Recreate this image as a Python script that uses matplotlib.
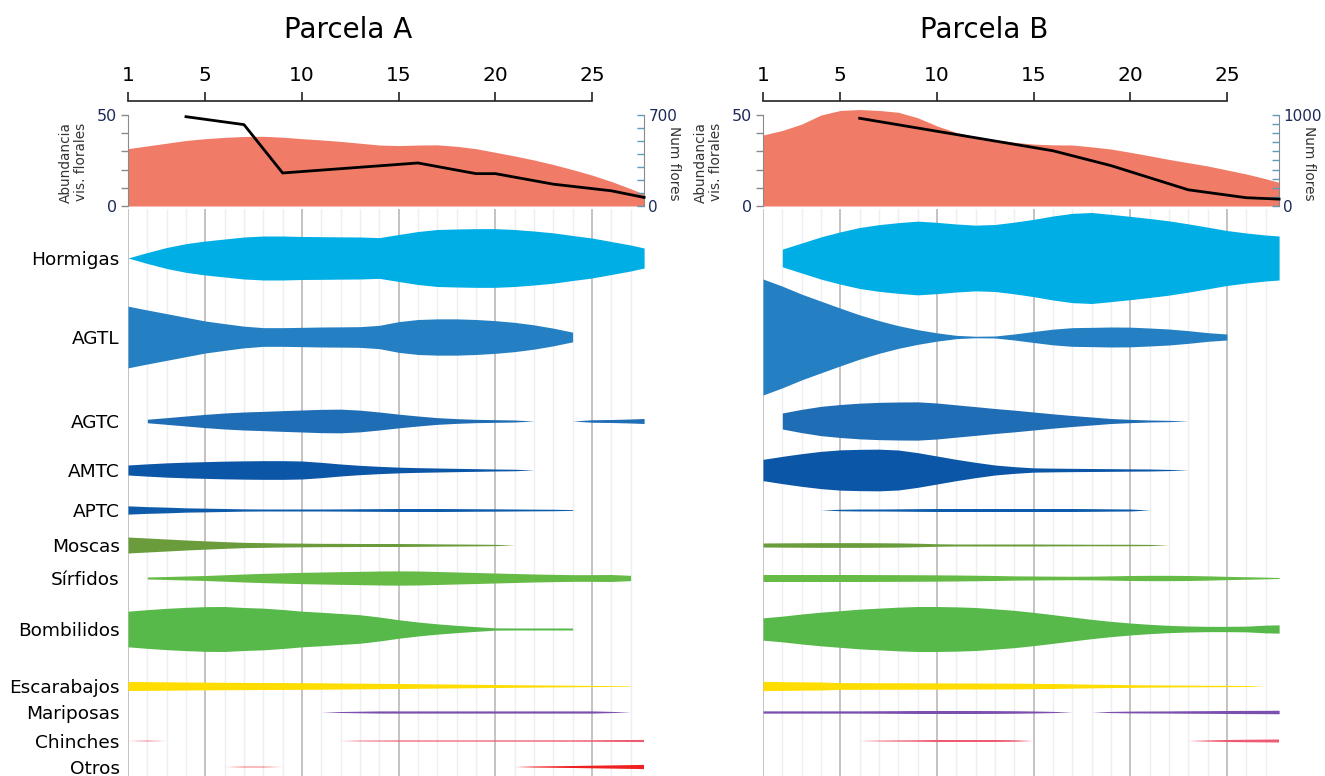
import numpy as np
import matplotlib
matplotlib.use("Agg")
import matplotlib.pyplot as plt

nan = np.nan

# ---------------- data ----------------
semanas = [1, 2, 3, 4, 5, 6, 7, 8, 9, 10, 11, 12, 13, 14, 15, 16, 17, 18, 19, 20,
           21, 22, 23, 24, 25, 26, 27, 27.7]
semanas_eje = [1, 5, 10, 15, 20, 25]

categorias = ["Hormigas", "AGTL", "AGTC", "AMTC", "APTC", "Moscas", "Sírfidos",
              "Bombilidos", "Escarabajos", "Mariposas", "Chinches", "Otros"]

# abundancia de visitantes florales (eje izquierdo, 0-50)
abund_A = [31.5, 33, 34.5, 36, 37, 37.7, 38.2, 38.3, 37.8, 37, 36.3, 35.5, 34.5, 33.5,
           33.2, 33.5, 33.6, 32.8, 31.5, 29.5, 27.5, 25.3, 22.8, 20, 17, 13.5, 9.5, 6.5]
abund_B = [39, 41.5, 45, 50, 52.5, 53, 52.5, 51.5, 48.5, 44, 40.4, 38, 36.4, 35, 34,
           33.6, 33.5, 32.5, 31.3, 29.5, 27.6, 25.6, 23.8, 22, 19.8, 17.6, 15, 13]

# número de flores (eje derecho)
flores_sem_A = [4, 7, 9, 16, 19, 20, 23, 26, 27.7]
flores_A = [687, 626, 254, 331, 249, 249, 168, 117, 66]
flores_sem_B = [6, 16, 19, 23, 26, 27.7]
flores_B = [964, 607, 444, 178, 91, 76]

# abundancia por grupo (ancho de la forma), parcela A
hormigas_A = [0, 11, 21, 28.7, 34, 38, 42, 44, 44, 43, 42.7, 42.3, 42, 40.7, 47, 53, 57,
              58, 58.7, 58.7, 57, 54, 50.3, 45, 40, 33, 26, 20]
agtl_A = [61.7, 54, 46.7, 39.3, 32, 26.7, 21.7, 18.7, 18.7, 19.3, 20, 20.3, 20.7, 23.3,
          30.7, 35, 36.3, 36.3, 35, 32.7, 29.3, 24.3, 17.7, 9.7, nan, nan, nan, nan]
agtc_A = [nan, 3.5, 6.7, 10, 13.3, 16, 18, 19.3, 20.7, 22, 23.3, 23.7, 21.7, 18, 13.7,
          10, 6.7, 4.7, 3.3, 2.7, 2, 0, 0, 0, 2.5, 3, 4, 5]
amtc_A = [10, 12.3, 14.3, 15.7, 16.7, 17.7, 18.3, 18.7, 18.7, 18, 15.3, 12, 9.3, 7.3,
          5.7, 4.7, 4, 3.3, 2.7, 2, 1.5, 0, nan, nan, nan, nan, nan, nan]
aptc_A = [8.3, 6.7, 5.7, 4.3, 3.7, 3, 2.3, 2, 2, 2, 2, 2.2, 2.5, 2.7, 3, 3, 3, 2.8,
          2.5, 2.3, 2, 1.7, 1.5, 0.8, nan, nan, nan, nan]
moscas_A = [16, 14, 12, 10, 8.3, 6.7, 5.3, 4.7, 4, 3.7, 3.3, 3.3, 3, 3, 3, 2.7, 2.3,
            2, 1.7, 1.3, 0, nan, nan, nan, nan, nan, nan, nan]
sirfidos_A = [nan, 2, 3, 4, 5, 6.5, 8, 9.3, 10.3, 11.3, 12, 12.7, 13.3, 14, 14.3, 14,
              13, 12, 11, 10, 9, 8, 7.3, 6.7, 6.7, 7, 5.3, nan]
bombilidos_A = [35.7, 38.7, 41.3, 43.3, 44.7, 45, 43, 41.7, 39, 35.7, 33.5, 31, 28.5,
                24, 18.5, 14, 10.3, 7.3, 4.7, 2.3, 2, 2, 2, 2, nan, nan, nan, nan]
escarabajos_A = [9, 8.7, 8.4, 8.0, 7.7, 7.4, 7.2, 7.0, 6.9, 6.7, 6.4, 6.0, 5.7, 5.3,
                 5.0, 4.6, 4.2, 3.8, 3.4, 3.0, 2.6, 2.2, 1.9, 1.5, 1.2, 0.9, 0.5, nan]
mariposas_A = [nan, nan, nan, nan, nan, nan, nan, nan, nan, nan, 0, 1, 1.6, 2.2, 2.2,
               2.2, 2.2, 2.2, 2.2, 2.2, 2.2, 2.2, 2.2, 2.2, 2.2, 1.2, 0, nan]
chinches_A = [0, 0.8, 0, nan, nan, nan, nan, nan, nan, nan, nan, 0, 0.8, 1, 1.2, 1.2,
              1.2, 1.2, 1.2, 1.3, 1.3, 1.3, 1.4, 1.4, 1.5, 1.8, 2, 2.2]
otros_A = [nan, nan, nan, nan, nan, 0, 0.6, 0.6, 0, nan, nan, nan, nan, nan, nan, nan,
           nan, nan, nan, nan, 0, 1, 1.5, 2, 2.6, 3.2, 3.8, 4.2]

# parcela B
hormigas_B = [nan, 17.7, 30, 42.3, 52.3, 61, 66.7, 70.7, 73.7, 71.3, 68, 65.7, 67, 71.7,
              77.3, 84, 89.3, 91, 87.3, 83.3, 79, 74.3, 68.3, 61.7, 55, 50, 46, 44]
agtl_B = [116, 101.7, 85.7, 71.7, 57.7, 44.3, 32.7, 22.7, 14.7, 8.3, 3.3, 1.5, 2, 6, 11,
          15.7, 18.7, 19.3, 20, 19.7, 18, 16, 12.7, 8.7, 6, nan, nan, nan]
agtc_B = [nan, 16, 23.3, 29.3, 33, 35.7, 37.3, 38, 38.3, 36, 32.3, 28.7, 25, 21.7, 18,
          14.3, 11, 8, 5, 3.3, 2, 1.3, 0, nan, nan, nan, nan, nan]
amtc_B = [21.3, 27.3, 32.7, 37.3, 40.3, 41.3, 41.7, 40, 34.7, 28, 21.3, 15.3, 10, 6.7,
          4.3, 3.7, 3.3, 3, 2.7, 2.3, 2, 1.2, 0, nan, nan, nan, nan, nan]
aptc_B = [nan, nan, nan, 0, 1.5, 2, 2, 2.3, 2.7, 3, 3, 3, 3, 3, 3, 3, 3, 2.7, 2.3, 2, 0,
          nan, nan, nan, nan, nan, nan, nan]
moscas_B = [4, 4.3, 4.5, 4.7, 4.7, 4.7, 4.5, 4.2, 3.5, 2.5, 2, 2, 2, 2, 2, 1.8, 1.7, 1.5,
            1.5, 1.5, 1.2, 0, nan, nan, nan, nan, nan, nan]
sirfidos_B = [7, 7, 7, 7, 7, 7, 6.8, 6.7, 6.5, 6.3, 6, 5.5, 5, 4.3, 4, 3.7, 3.5, 3.7, 4.3,
              5, 5.3, 5.3, 5, 4.3, 3.3, 2.5, 1.7, 1.0]
bombilidos_B = [22.3, 25.7, 30, 33.7, 36.7, 39.7, 41.7, 43.7, 45, 45, 44.3, 43, 40.3,
                37.3, 33.3, 28.7, 24, 19.3, 15.3, 12, 9.3, 7.3, 6, 5.3, 5.3, 5.7, 7.7, 8.3]
escarabajos_B = [9.3, 8.7, 8.3, 8, 6.7, 6.7, 6.5, 6.5, 6.3, 6.3, 6, 6, 5.8, 5.7, 5.3, 5,
                 4.3, 3.7, 3.2, 2.7, 2.3, 2, 1.7, 1.5, 1.3, 1, 0, nan]
mariposas_B = [2.3, 2.3, 2.3, 2.3, 2.3, 2.3, 2.5, 2.7, 3, 3, 3, 3, 2.8, 2.5, 2, 1.2, 0, 0,
               1.2, 1.8, 2, 2.2, 2.5, 2.7, 3, 3.2, 3.3, 3.5]
chinches_B = [nan, nan, nan, nan, nan, 0, 0.8, 1.2, 1.5, 2, 2, 2, 2, 1.5, 0, nan, nan,
              nan, nan, nan, nan, nan, 0, 1.2, 2, 2.5, 2.8, 3]
otros_B = [nan] * 28

grupos_A = [hormigas_A, agtl_A, agtc_A, amtc_A, aptc_A, moscas_A, sirfidos_A,
            bombilidos_A, escarabajos_A, mariposas_A, chinches_A, otros_A]
grupos_B = [hormigas_B, agtl_B, agtc_B, amtc_B, aptc_B, moscas_B, sirfidos_B,
            bombilidos_B, escarabajos_B, mariposas_B, chinches_B, otros_B]

# ---------------- style / layout ----------------
colores = ["#00AEE6", "#2580C3", "#1F6DB5", "#0B56A6", "#0D5BAA", "#6A9C3C", "#66BB46",
           "#57B94A", "#FFDD00", "#7B4FAE", "#EE5A70", "#EE2020"]
filas_px = [258, 337, 421, 470, 510, 545, 578, 629, 686, 712, 741, 767]

W, H = 1325, 776
fig = plt.figure(figsize=(W / 100, H / 100), dpi=100)
fig.patch.set_facecolor("white")

XMAX = 27.7
PX_UNIT = 19.33
width_px = (XMAX - 1) * PX_UNIT
AREA_TOP, AREA_BOT = 115, 206
V_TOP = 209

paneles = [
    ("Parcela A", 128, 348, abund_A, flores_sem_A, flores_A, 700, grupos_A, True),
    ("Parcela B", 763, 984, abund_B, flores_sem_B, flores_B, 1000, grupos_B, False),
]

navy = "#1c2a5a"
for (titulo, left_px, title_x, abund, fsem, fval, fmax, grupos, etiquetas) in paneles:
    # ----- area chart -----
    ax = fig.add_axes([left_px / W, 1 - AREA_BOT / H, width_px / W,
                       (AREA_BOT - AREA_TOP) / H])
    ax.fill_between(semanas, 0, abund, color="#F07B67", lw=0, clip_on=False, zorder=1)
    ax.set_xlim(1, XMAX)
    ax.set_ylim(0, 50)
    ax.patch.set_visible(False)
    for s in ("right", "bottom"):
        ax.spines[s].set_visible(False)
    ax.spines["left"].set_color("#8a8a8a")
    ax.spines["left"].set_bounds(0, 50)
    ax.spines["top"].set_position(("outward", 10))
    ax.spines["top"].set_bounds(1, 25)
    ax.spines["top"].set_color("#222222")
    ax.spines["top"].set_linewidth(1.2)
    ax.xaxis.set_ticks_position("top")
    ax.set_xticks(semanas_eje)
    ax.set_xticklabels([str(s) for s in semanas_eje])
    ax.tick_params(axis="x", direction="out", length=6.5, width=1.2, color="#222222",
                   labelsize=14.5, pad=5)
    ax.set_yticks([0, 10, 20, 30, 40, 50])
    ax.set_yticklabels(["0", "", "", "", "", "50"])
    ax.tick_params(axis="y", direction="out", length=5, width=1, color="#8a8a8a",
                   labelcolor=navy, labelsize=11.5, pad=3)
    ax.set_ylabel("Abundancia\nvis. florales", fontsize=9.8, color="#333333",
                  linespacing=1.1)
    ax.yaxis.set_label_coords(-0.077, 0.48)

    ax2 = ax.twinx()
    ax2.plot(fsem, fval, color="black", lw=2, clip_on=False, zorder=3)
    ax2.set_ylim(0, fmax)
    ax2.set_xlim(1, XMAX)
    for s in ("top", "left", "bottom"):
        ax2.spines[s].set_visible(False)
    ax2.spines["right"].set_color("#8a8a8a")
    ticks_r = list(range(0, fmax + 1, 100))
    ax2.set_yticks(ticks_r)
    ax2.set_yticklabels([str(t) if t in (0, fmax) else "" for t in ticks_r])
    ax2.tick_params(axis="y", direction="in", length=5, width=1, color="#5b9bbd",
                    labelcolor=navy, labelsize=11, pad=3)
    ax2.set_ylabel("Num flores", rotation=270, fontsize=9.8, color="#333333",
                   va="center")
    ax2.yaxis.set_label_coords(1.058, 0.47)

    fig.text(title_x / W, 1 - 30 / H, titulo, ha="center", va="center", fontsize=20)

    # ----- shapes -----
    axv = fig.add_axes([left_px / W, 0, width_px / W, (H - V_TOP) / H])
    axv.set_xlim(1, XMAX)
    axv.set_ylim(H, V_TOP)
    for s in axv.spines.values():
        s.set_visible(False)
    for x in range(1, 28):
        major = x in (1, 5, 10, 15, 20, 25)
        axv.axvline(x, color="#c6c2c2" if major else "#eceef3",
                    lw=1.4 if major else 1.0, zorder=0)
    for vals, fila, col in zip(grupos, filas_px, colores):
        w = np.asarray(vals, dtype=float) / 2.0
        axv.fill_between(semanas, fila - w, fila + w, color=col, lw=0, zorder=2)
    axv.set_xticks([])
    if etiquetas:
        axv.set_yticks(filas_px)
        axv.set_yticklabels(categorias)
        axv.tick_params(axis="y", length=0, labelsize=13.3, pad=6)
    else:
        axv.set_yticks([])

fig.savefig("out.png", dpi=100, facecolor="white")
